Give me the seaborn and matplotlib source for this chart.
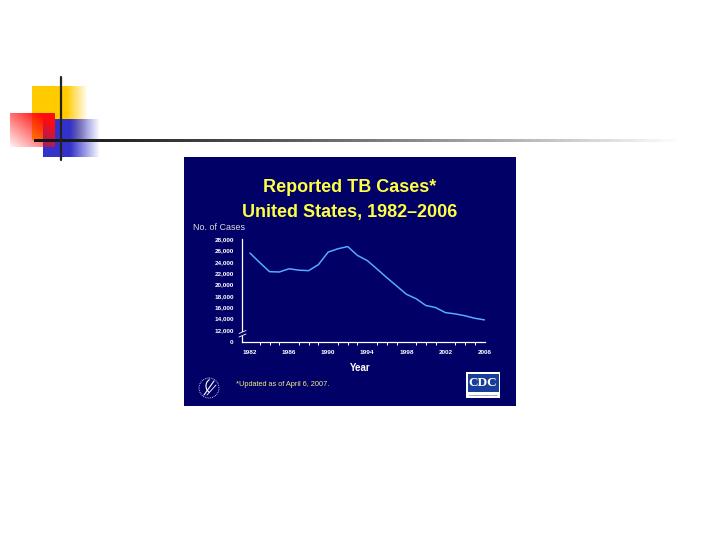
import numpy as np
import matplotlib
matplotlib.use('Agg')
import matplotlib.pyplot as plt
import seaborn as sns
import pandas as pd
from matplotlib.patches import Rectangle, Circle, Arc

# ---------------- data ----------------
years = list(range(1982, 2007))
cases = [25520, 23846, 22255, 22201, 22768, 22517, 22436, 23495, 25701, 26283,
         26673, 25108, 24206, 22727, 21210, 19751, 18287, 17500, 16309, 15945,
         15055, 14835, 14499, 14065, 13779]
y_tick_values = [12000, 14000, 16000, 18000, 20000, 22000, 24000, 26000, 28000]
y_tick_labels = ['12,000', '14,000', '16,000', '18,000', '20,000', '22,000',
                 '24,000', '26,000', '28,000']
x_tick_years = [1982, 1986, 1990, 1994, 1998, 2002, 2006]
title_lines = ['Reported TB Cases*', 'United States, 1982\u20132006']
y_label = 'No. of Cases'
x_label = 'Year'
footnote = '*Updated as of April 6, 2007.'

W, H = 720, 540
sns.set_theme(style='white')
plt.rcParams['font.family'] = ['Liberation Sans', 'DejaVu Sans']

fig = plt.figure(figsize=(7.2, 5.4), dpi=100)
fig.patch.set_facecolor('white')


def px_axes(z):
    a = fig.add_axes([0, 0, 1, 1], zorder=z)
    a.set_xlim(0, W)
    a.set_ylim(H, 0)
    a.axis('off')
    a.patch.set_alpha(0)
    return a


def grad_rect(ax, x0, x1, y0, y1, rgb, alpha_fn, z=1):
    nx, ny = 200, 100
    u = np.linspace(0, 1, nx)[None, :].repeat(ny, 0)
    v = np.linspace(0, 1, ny)[:, None].repeat(nx, 1)
    img = np.zeros((ny, nx, 4))
    img[..., 0], img[..., 1], img[..., 2] = rgb
    img[..., 3] = np.clip(alpha_fn(u, v), 0, 1)
    ax.imshow(img, extent=(x0, x1, y1, y0), aspect='auto', zorder=z,
              interpolation='bilinear')


bg = px_axes(0)

# decorative squares
grad_rect(bg, 32, 88, 86, 140, (1.0, 0.8, 0.0),
          lambda u, v: np.where(u < 0.62, 1.0, 1 - (u - 0.62) / 0.38), z=1)
grad_rect(bg, 43, 100, 119, 157, (0.2, 0.2, 0.8),
          lambda u, v: np.where(u < 0.48, 1.0, 1 - (u - 0.48) / 0.52), z=2)
grad_rect(bg, 10, 55, 113, 147, (1.0, 0.05, 0.05),
          lambda u, v: 0.05 + 1.0 * (0.6 * u + 0.55 * (1 - v)), z=3)
# horizontal gradient rule
hl = np.zeros((4, 400, 4))
g = np.linspace(0.15, 1.0, 400) ** 1.4
hl[..., 0] = g
hl[..., 1] = g
hl[..., 2] = g
hl[..., 3] = 1
bg.imshow(hl, extent=(34, 680, 142.5, 139.5), aspect='auto', zorder=4,
          interpolation='bilinear')
bg.plot([61, 61], [77, 160], color='#222222', lw=1.6, zorder=5)

# dark panel
bg.add_patch(Rectangle((184, 157), 332, 249, facecolor='#000066',
                       edgecolor='none', zorder=0))
bg.set_xlim(0, W)
bg.set_ylim(H, 0)

# ---------------- chart ----------------
ax = fig.add_axes([242 / W, 1 - 342 / H, 243 / W, 103 / H], zorder=1)
ax.patch.set_alpha(0)
df = pd.DataFrame({'year': years, 'cases': cases})
sns.lineplot(data=df, x='year', y='cases', ax=ax, color='#55AAFF',
             linewidth=1.1)
ax.set_xlim(1981.18, 2006.05)
ax.set_ylim(9890, 28000)
ax.set_yticks([9890] + y_tick_values)
ax.set_yticklabels(['0'] + y_tick_labels)
ax.set_xticks(x_tick_years)
ax.set_xticklabels([str(y) for y in x_tick_years])
ax.set_xticks(years, minor=True)
for s in ['top', 'right']:
    ax.spines[s].set_visible(False)
for s in ['left', 'bottom']:
    ax.spines[s].set_color('white')
    ax.spines[s].set_linewidth(0.9)
ax.tick_params(axis='both', which='both', colors='white', labelsize=4.6,
               length=2.5, width=0.7, direction='out')
ax.tick_params(axis='y', pad=3.5)
ax.tick_params(axis='x', pad=3)
ax.tick_params(axis='x', which='minor', bottom=True, length=2.5)
for lbl in ax.get_xticklabels() + ax.get_yticklabels():
    lbl.set_fontweight('bold')
ax.set_xlabel('')
ax.set_ylabel('')
ax.grid(False)

# ---------------- overlay texts / logos ----------------
top = px_axes(2)
tcol = '#FFFF44'
top.text(350, 188, title_lines[0], ha='center', va='center', fontsize=13,
         fontweight='bold', color=tcol)
top.text(350, 212, title_lines[1], ha='center', va='center', fontsize=13,
         fontweight='bold', color=tcol)
top.text(193, 228, y_label, ha='left', va='center', fontsize=6.4,
         color='#DDDDDD')
top.text(360, 368, x_label, ha='center', va='center', fontsize=7,
         fontweight='bold', color='white')
top.text(236, 384, footnote, ha='left', va='center', fontsize=5.3,
         color='#EEEE88')

# axis break
top.add_patch(Rectangle((240.3, 331.5), 3.4, 4.5, facecolor='#000066',
                        edgecolor='none', zorder=3))
top.plot([239, 246], [333.5, 330.5], color='white', lw=0.6, zorder=4)
top.plot([239, 246], [337, 334], color='white', lw=0.6, zorder=4)

# HHS logo (stylised)
top.add_patch(Circle((209, 388), 10, facecolor='none', edgecolor='white',
                     lw=0.6, ls=(0, (1, 1.2))))
top.add_patch(Arc((212, 386), 12, 14, theta1=110, theta2=250,
                  color='white', lw=0.8))
top.plot([204, 214], [395, 381], color='white', lw=0.8)
top.plot([207, 216], [395, 385], color='white', lw=0.6)

# CDC logo
top.add_patch(Rectangle((466, 372), 34, 26, facecolor='white',
                        edgecolor='none'))
top.add_patch(Rectangle((467.5, 373.5), 31, 18.5, facecolor='#1A3D99',
                        edgecolor='none'))
top.text(483, 383, 'CDC', ha='center', va='center', fontsize=9.5,
         family='Liberation Serif', color='white', fontweight='bold')
top.plot([469, 497], [395, 395], color='#1A3D99', lw=0.5, ls=(0, (1, 0.6)))

fig.savefig('out.png', dpi=100, facecolor='white')
